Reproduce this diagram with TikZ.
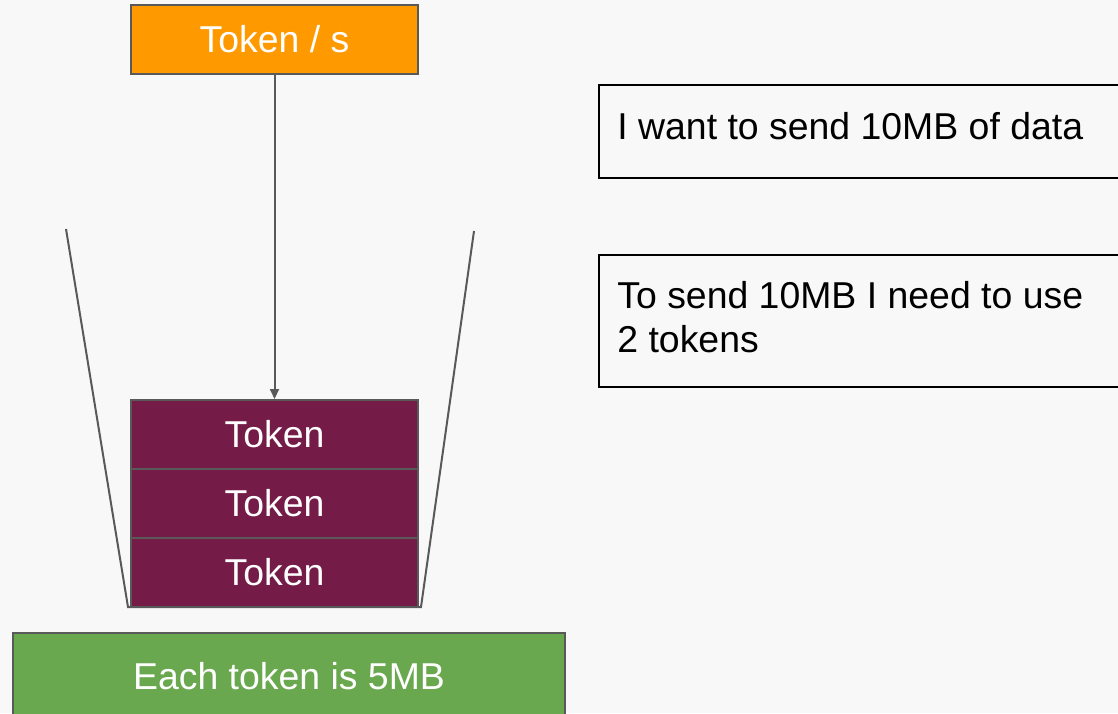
\documentclass[tikz,border=0pt]{standalone}
\usepackage{fontspec}
\setmainfont{Liberation Sans}
\usetikzlibrary{arrows.meta}
\definecolor{bggray}{HTML}{F8F8F8}
\definecolor{edge}{HTML}{595959}
\definecolor{rateorange}{HTML}{FF9900}
\definecolor{tokenplum}{HTML}{741B47}
\definecolor{sizegreen}{HTML}{6AA84F}
\tikzset{
  box/.style={draw=edge, line width=1pt, minimum width=143.5pt, minimum height=34.5pt, inner sep=0pt, text=white, font=\fontsize{18.7}{22}\selectfont},
  ratebox/.style={box, fill=rateorange},
  tokenbox/.style={box, fill=tokenplum},
  sizebox/.style={box, fill=sizegreen, minimum width=276pt, minimum height=43.5pt},
  notebox/.style={draw=black, line width=0.8pt, minimum width=263.5pt, inner sep=0pt, anchor=north west},
  notetext/.style={anchor=base west, inner sep=0pt, align=left, font=\fontsize{18.7}{22}\selectfont},
  arrow/.style={-{Triangle[length=5pt, width=4.5pt]}, line width=1pt, draw=edge},
  bucket/.style={line width=1pt, draw=edge}
}
\begin{document}
\begin{tikzpicture}[x=0.5pt, y=-0.5pt]
  \useasboundingbox (0,0) rectangle (1118,713);
  \clip (0,0) rectangle (1118,713);
  \fill[bggray] (0,0) rectangle (1118,713);
  % bucket
  \coordinate (bl) at (66,229);
  \coordinate (br) at (474,231);
  \draw[bucket] (bl) -- (128,607) -- (421,607) -- (br);
  % tokens in the bucket
  \node[tokenbox] (tok3) at (274.5,572.5) {Token};
  \node[tokenbox] (tok2) at (274.5,503.5) {Token};
  \node[tokenbox] (tok1) at (274.5,434.5) {Token};
  \node[ratebox] (rate) at (274.5,39.5) {Token / s};
  \draw[arrow] (rate) -- (tok1);
  \node[sizebox] (size) at (289,676.5) {Each token is 5MB};
  % notes on the right
  \node[notebox, minimum height=46.5pt] (want) at (598,84) {};
  \node[notetext] (wanttext) at (617,139) {I want to send 10MB of data};
  \node[notebox, minimum height=66pt] (need) at (598,254) {};
  \node[notetext] (needtext) at (617,352) {To send 10MB I need to use\\2 tokens};
\end{tikzpicture}
\end{document}
